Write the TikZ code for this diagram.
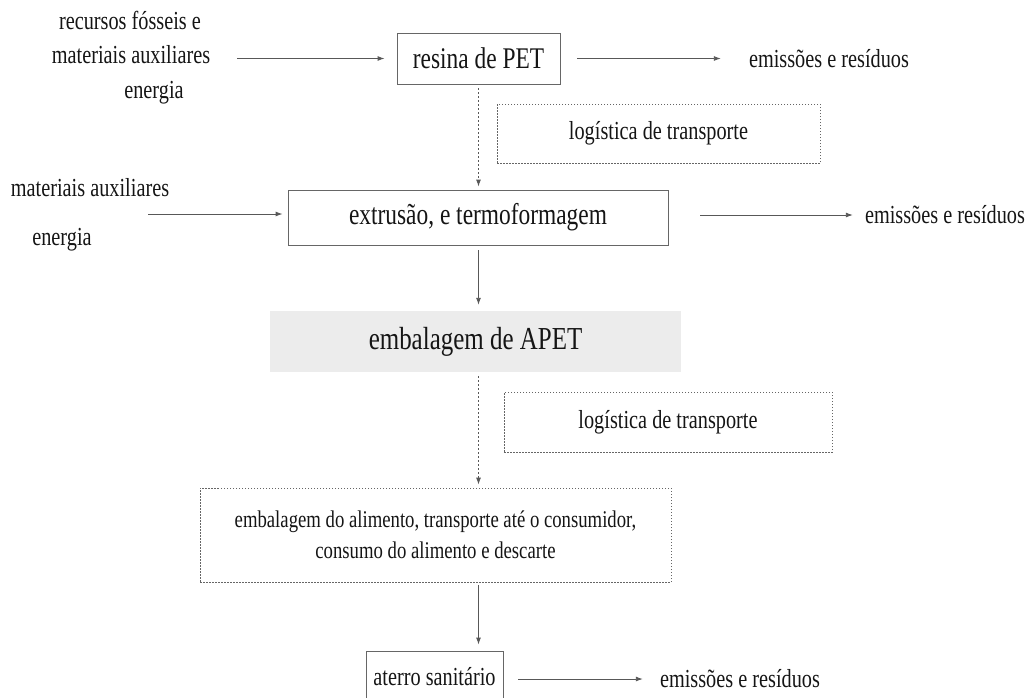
\documentclass[tikz,border=0pt]{standalone}
\usepackage{fontspec}
\setmainfont{Liberation Serif}[FakeStretch=0.78]
\usetikzlibrary{arrows.meta}
\definecolor{ink}{HTML}{151515}
\definecolor{edge}{HTML}{666666}
\definecolor{wire}{HTML}{585858}
\definecolor{panel}{HTML}{ECECEC}

\begin{document}
\begin{tikzpicture}[x=1pt,y=-1pt,
  every node/.style={text=ink, inner sep=0pt, align=center},
  solidbox/.style={draw=edge, line width=0.9pt, rectangle},
  dotbox/.style={draw=edge, line width=0.8pt, dash pattern=on 1.5pt off 1.5pt, rectangle},
  flow/.style={draw=wire, line width=0.9pt, -{Latex[length=7pt,width=5pt]}},
  dflow/.style={flow, dash pattern=on 2pt off 2pt},
  small/.style={font=\fontsize{26}{30}\selectfont},
  big/.style={font=\fontsize{30}{34}\selectfont},
  mid/.style={font=\fontsize{24}{31}\selectfont}
]
\useasboundingbox (0,0) rectangle (1030,697);

% process boxes
\node[solidbox, big, minimum width=163pt, minimum height=51pt] (resina) at (478.5,58.5) {resina de PET};
\node[dotbox, small, minimum width=323pt, minimum height=59pt] (log1) at (658.5,133.5) {logística de transporte};
\node[solidbox, big, minimum width=380pt, minimum height=55pt] (extr) at (478,217.5) {extrusão, e termoformagem};
\node[fill=panel, font=\fontsize{32}{36}\selectfont, minimum width=411pt, minimum height=61pt] (apet) at (475.5,341.5) {embalagem de APET};
\node[dotbox, small, minimum width=328pt, minimum height=60pt] (log2) at (668,422) {logística de transporte};
\node[dotbox, mid, minimum width=471pt, minimum height=94pt] (emb) at (435.5,535) {embalagem do alimento, transporte até o consumidor,\\consumo do alimento e descarte};
\node[solidbox, small, minimum width=137pt, minimum height=52pt] (aterro) at (434.5,677) {aterro sanitário};

% inputs and outputs
\node[small] (rec) at (130,20) {recursos fósseis e};
\node[small] (mat1) at (131,55) {materiais auxiliares};
\node[small] (en1) at (154,93) {energia};
\node[small] (mat2) at (90,188) {materiais auxiliares};
\node[small] (en2) at (62,240) {energia};
\node[small] (em1) at (829,58.5) {emissões e resíduos};
\node[small] (em2) at (945,215) {emissões e resíduos};
\node[small] (em3) at (740,679) {emissões e resíduos};

\coordinate (in1) at (237,58.5);
\coordinate (in2) at (148,214);

% connectors
\draw[flow, shorten >=12pt] (in1) -- (resina.west);
\draw[flow, shorten <=17pt, shorten >=28pt] (resina.east) -- (resina.east -| em1.west);
\draw[dflow, shorten <=4pt, shorten >=3pt] (resina.south) -- (resina.south |- extr.north);
\draw[flow, shorten >=5pt] (in2) -- (in2 -| extr.west);
\draw[flow, shorten <=32pt, shorten >=12pt] (extr.east |- em2) -- (em2.west);
\draw[flow, shorten <=5pt, shorten >=6pt] (resina.south |- extr.south) -- (resina.south |- apet.north);
\draw[dflow, shorten <=4pt, shorten >=3pt] (resina.south |- apet.south) -- (resina.south |- emb.north);
\draw[flow, shorten <=3pt, shorten >=6pt] (resina.south |- emb.south) -- (resina.south |- aterro.north);
\draw[flow, shorten <=15pt, shorten >=17pt] (aterro.east |- em3) -- (em3.west);
\end{tikzpicture}
\end{document}
